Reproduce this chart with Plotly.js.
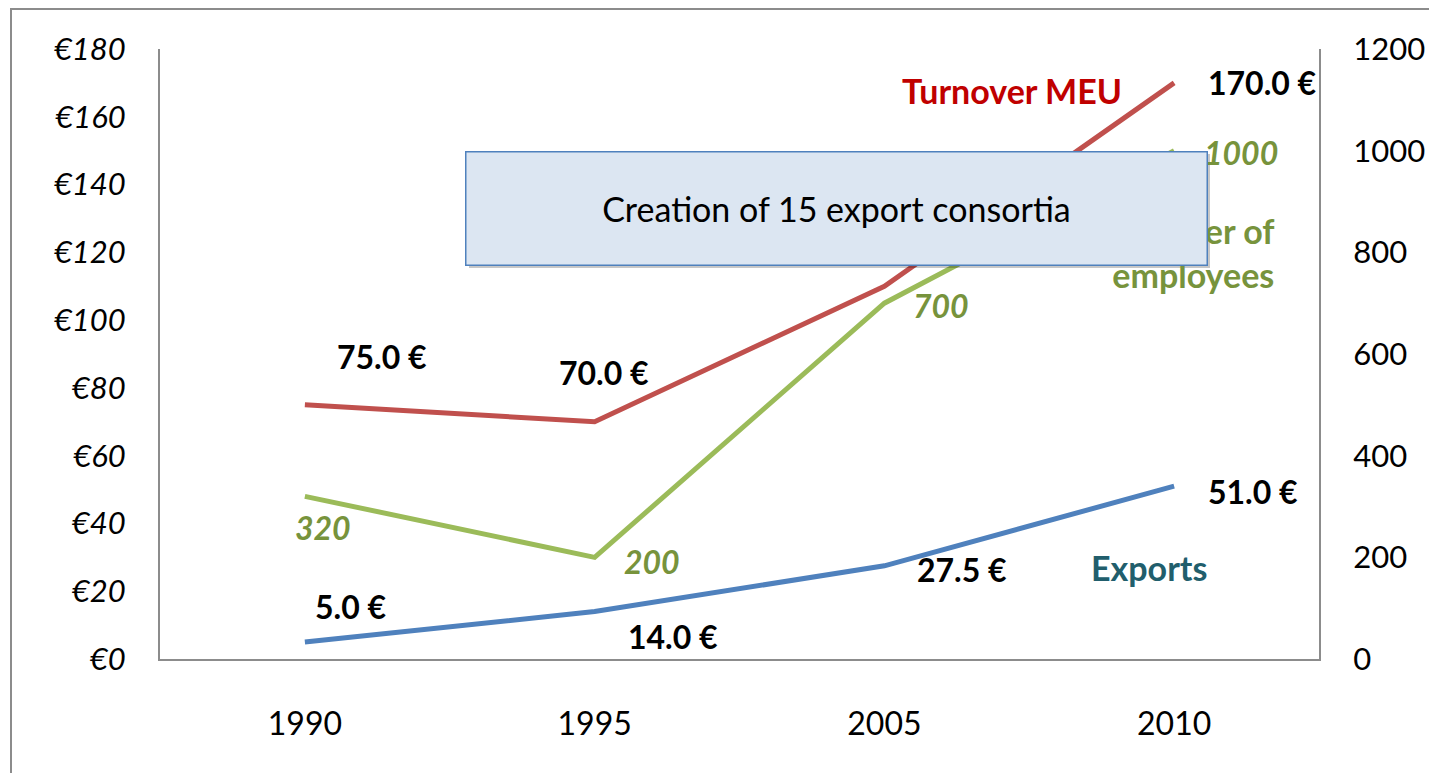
<!DOCTYPE html>
<html>
<head>
<meta charset="utf-8">
<script src="https://cdn.plot.ly/plotly-3.0.1.min.js"></script>
<style>
  body { margin: 0; background: #fff; }
  #chart { width: 1429px; height: 773px; }
</style>
</head>
<body>
<div id="chart"></div>
<script>
// data
let years = ["1990", "1995", "2005", "2010"];
let turnover = [75, 70, 110, 170];        // million euro, left axis
let exportsVal = [5, 14, 27.5, 51];       // million euro, left axis
let employees = [320, 200, 700, 1000];    // right axis

let turnoverLabels = ["75.0 €", "70.0 €", "", "170.0 €"];
let exportLabels = ["5.0 €", "14.0 €", "27.5 €", "51.0 €"];
let employeeLabels = ["320", "200", "700", "1000"];

let leftTicks = [0, 20, 40, 60, 80, 100, 120, 140, 160, 180];
let rightTicks = [0, 200, 400, 600, 800, 1000, 1200];

let FONT = "Lato, 'Open Sans', sans-serif";

let trace1 = {
    x: years, y: turnover, name: "Turnover MEU",
    type: 'scatter', mode: 'lines',
    line: { color: '#C0504D', width: 5 }
};
let trace2 = {
    x: years, y: employees, name: "Number of employees",
    type: 'scatter', mode: 'lines', yaxis: 'y2',
    line: { color: '#9BBB59', width: 5 }
};
let trace3 = {
    x: years, y: exportsVal, name: "Exports",
    type: 'scatter', mode: 'lines',
    line: { color: '#4F81BD', width: 5 }
};

// offsets of the value labels from their points (px)
let turnShift = [[77, 48], [9, 49], [0, 0], [88, 0]];
let expShift = [[46, 36], [78, -25], [78, -4], [79, -5]];
let empShift = [[18, -31], [57, -4], [57, -2], [67, -2]];

function label(i, y, yref, text, shift, color) {
    // category index is used as x, the year strings would be read as numbers
    return {
        x: i, y: y, xref: 'x', yref: yref, text: text, showarrow: false,
        xanchor: 'center', yanchor: 'middle',
        xshift: shift[0], yshift: shift[1],
        font: { family: FONT, size: 32, color: color }
    };
}

function note(px, py, text, size, color) {
    return {
        xref: 'paper', yref: 'paper',
        x: (px - 160) / 1159, y: (659 - py) / 610,
        xanchor: 'center', yanchor: 'middle',
        text: text, showarrow: false,
        font: { family: FONT, size: size, color: color }
    };
}

let annotations = [];
years.forEach(function (yr, i) {
    if (turnoverLabels[i]) {
        annotations.push(label(i, turnover[i], 'y', '<b>' + turnoverLabels[i] + '</b>', turnShift[i], '#000'));
    }
    annotations.push(label(i, exportsVal[i], 'y', '<b>' + exportLabels[i] + '</b>', expShift[i], '#000'));
    annotations.push(label(i, employees[i], 'y2', '<b><i>' + employeeLabels[i] + '</i></b>', empShift[i], '#77933C'));
});

// series names
annotations.push(note(1012, 90, '<b>Turnover MEU</b>', 34, '#C00000'));
annotations.push(note(1193, 253, '<b>Number of<br>employees</b>', 34, '#77933C'));
annotations.push(note(1149, 567, '<b>Exports</b>', 34, '#215E6C'));

// text box, last so it sits on top of the names
let box = note(836, 208, 'Creation of 15 export consortia', 34, '#000');
box.width = 738;
box.height = 110;
box.borderpad = 1;
box.borderwidth = 1.5;
box.bgcolor = '#DCE6F2';
box.bordercolor = '#4F81BD';
annotations.push(box);

let layout = {
    width: 1429, height: 773,
    margin: { l: 160, r: 110, t: 49, b: 114 },
    paper_bgcolor: '#fff', plot_bgcolor: '#fff',
    showlegend: false,
    xaxis: {
        type: 'category', range: [-0.5, 3.5],
        showline: true, linecolor: '#8C8C8C', linewidth: 2,
        showgrid: false, ticks: '', ticklabelstandoff: 36,
        tickfont: { family: FONT, size: 32, color: '#000' }
    },
    yaxis: {
        range: [0, 180], tickvals: leftTicks,
        ticktext: leftTicks.map(function (v) { return '€' + v; }),
        showline: true, linecolor: '#8C8C8C', linewidth: 2,
        showgrid: false, zeroline: false, ticks: '', ticklabelstandoff: 26,
        tickfont: { family: FONT, size: 31, color: '#000', style: 'italic' }
    },
    yaxis2: {
        overlaying: 'y', side: 'right',
        range: [0, 1200], tickvals: rightTicks,
        showline: true, linecolor: '#8C8C8C', linewidth: 2,
        showgrid: false, zeroline: false, ticks: '', ticklabelstandoff: 26,
        tickfont: { family: FONT, size: 31, color: '#000' }
    },
    shapes: [
        // outer chart frame
        {
            type: 'rect', xref: 'paper', yref: 'paper',
            x0: (11 - 160) / 1159, x1: 1.4, y0: -0.4, y1: (659 - 9) / 610,
            line: { color: '#8C8C8C', width: 2 }, layer: 'below'
        },
        // soft shadow of the text box
        {
            type: 'rect', xref: 'paper', yref: 'paper',
            x0: (469 - 160) / 1159, x1: (1210 - 160) / 1159,
            y0: (659 - 268) / 610, y1: (659 - 154) / 610,
            line: { width: 0 }, fillcolor: 'rgba(0,0,0,0.22)', layer: 'above'
        }
    ],
    annotations: annotations
};

Plotly.newPlot('chart', [trace1, trace2, trace3], layout, { staticPlot: true });
</script>
</body>
</html>
